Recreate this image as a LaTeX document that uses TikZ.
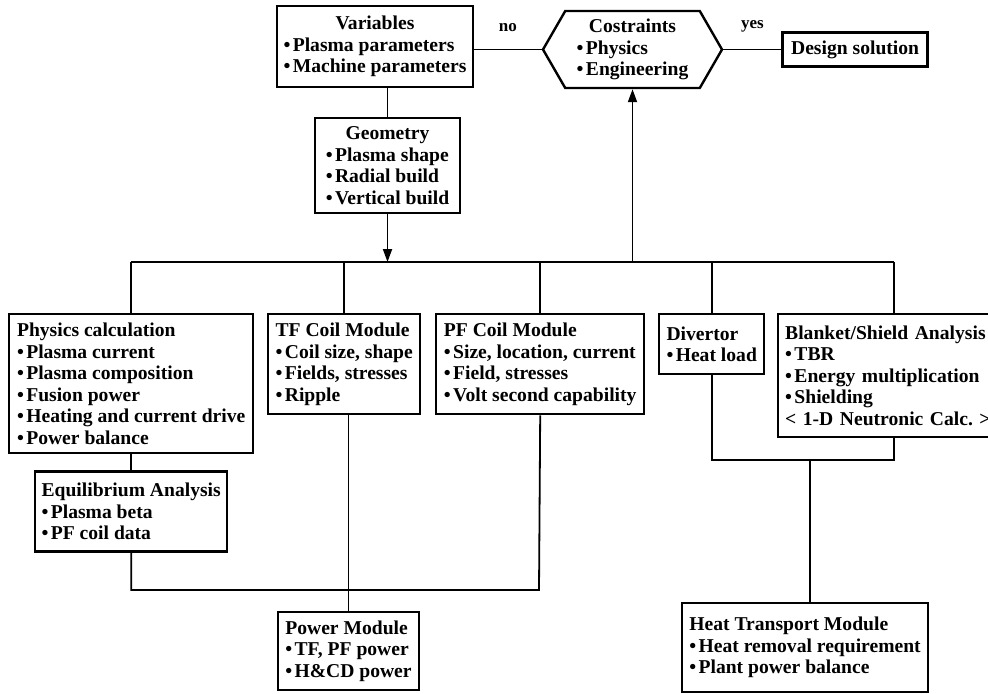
\documentclass[tikz,border=0pt]{standalone}
\usepackage{fontspec}
\usepackage{calc}
\setmainfont{Liberation Serif}
\usetikzlibrary{arrows.meta, positioning, shapes.symbols}

\newcommand{\itm}{\textbullet\kern1.2pt}
\newcommand{\ttl}[2]{\makebox[\widthof{#2}]{#1}}

\begin{document}
\begin{tikzpicture}[
      x=0.5pt, y=-0.5pt,
      every node/.style={font=\fontsize{9.8}{10.8}\selectfont\bfseries},
      box/.style={draw, line width=1.2pt, align=left, inner sep=2pt},
      hexa/.style={draw, line width=1.2pt, align=left, inner sep=2pt,
                   signal, signal to=east and west, signal pointer angle=120},
      link/.style={line width=0.9pt},
      arrow/.style={-{Triangle[length=6.5pt, width=4.5pt]}, line width=0.9pt},
      answer/.style={font=\fontsize{8.5}{9}\selectfont\bfseries},
    ]
    \useasboundingbox (0,0) rectangle (988,693);

    % Variables, constraints and solution
    \node[box, minimum width=98pt, minimum height=40.5pt] (vars) at (375,46.5)
      {\ttl{Variables}{\itm Machine parameters}\\ \itm Plasma parameters\\ \itm Machine parameters};
    \node[hexa, minimum width=89.5pt, minimum height=38.5pt] (cons) at (632.5,49.5)
      {\ttl{Costraints}{\itm Engineering}\\ \itm Physics\\ \itm Engineering};
    \node[box, right=29pt of cons, minimum width=72.5pt, minimum height=17pt] (dsol)
      {Design solution};

    % Geometry
    \node[box, minimum width=72.5pt, minimum height=47.5pt] (geom) at (387.5,165.5)
      {\ttl{Geometry}{\itm Vertical build}\\ \itm Plasma shape\\ \itm Radial build\\ \itm Vertical build};

    % Modules
    \node[box, anchor=north west, minimum width=122pt, minimum height=69.5pt] (phys) at (8,313)
      {Physics calculation\\ \itm Plasma current\\ \itm Plasma composition\\
       \itm Fusion power\\ \itm Heating and current drive\\ \itm Power balance};
    \node[box, anchor=north west, minimum width=76pt, minimum height=50pt] (tf) at (267,313)
      {TF Coil Module\\ \itm Coil size, shape\\ \itm Fields, stresses\\ \itm Ripple};
    \node[box, anchor=north west, minimum width=104pt, minimum height=50pt] (pf) at (435,313)
      {PF Coil Module\\ \itm Size, location, current\\ \itm Field, stresses\\
       \itm Volt second capability};
    \node[box, anchor=north west, minimum width=52.5pt, minimum height=30pt] (div) at (658,313)
      {Divertor\\ \itm Heat load};
    \node[box, anchor=north west, text width=109pt, inner xsep=3.5pt, minimum height=61.5pt] (blk) at (777,313)
      {Blanket/Shield Analysis\\ \itm TBR\\ \itm Energy multiplication\\ \itm Shielding\\
       \textless{} 1-D Neutronic Calc.\ \textgreater};

    % Lower modules
    \node[box, below=8pt of phys, minimum width=96pt, minimum height=40pt] (eq)
      {Equilibrium Analysis\\ \itm Plasma beta\\ \itm PF coil data};
    \node[box, minimum width=70.5pt, minimum height=39pt] (pw) at (348.5,651)
      {Power Module\\ \itm TF, PF power\\ \itm H\&CD power};
    \node[box, minimum width=123pt, minimum height=44.5pt] (ht) at (805,647.5)
      {Heat Transport Module\\ \itm Heat removal requirement\\ \itm Plant power balance};

    % Junctions
    \coordinate (bus) at (0,262);
    \coordinate (pfjoin) at (539,590);
    \coordinate (htjoin) at (810,460);

    % Top connections
    \draw[link] (vars.east |- cons.west) -- node[above=5pt, answer] {no} (cons.west);
    \draw[link] (cons.east) -- node[above=5pt, answer] {yes} (dsol.west);
    \draw[link] (geom.north |- vars.south) -- (geom.north);
    \draw[arrow] (geom.south) -- (geom.south |- bus);
    \draw[arrow] (cons.south |- bus) -- (cons.south);

    % Bus to modules
    \draw[link] (phys.north |- bus) -- (blk.north |- bus);
    \foreach \m in {phys, tf, pf, div, blk}
      \draw[link] (\m.north |- bus) -- (\m.north);

    % Lower connections
    \draw[link] (eq.north |- phys.south) -- (eq.north);
    \draw[link] (eq.south) |- (pfjoin) -- (pf.south);
    \draw[link] (pw.north |- tf.south) -- (pw.north);
    \draw[link] (div.south) |- (htjoin) -| (blk.south);
    \draw[link] (htjoin) -- (htjoin |- ht.north);

  \end{tikzpicture}
\end{document}
